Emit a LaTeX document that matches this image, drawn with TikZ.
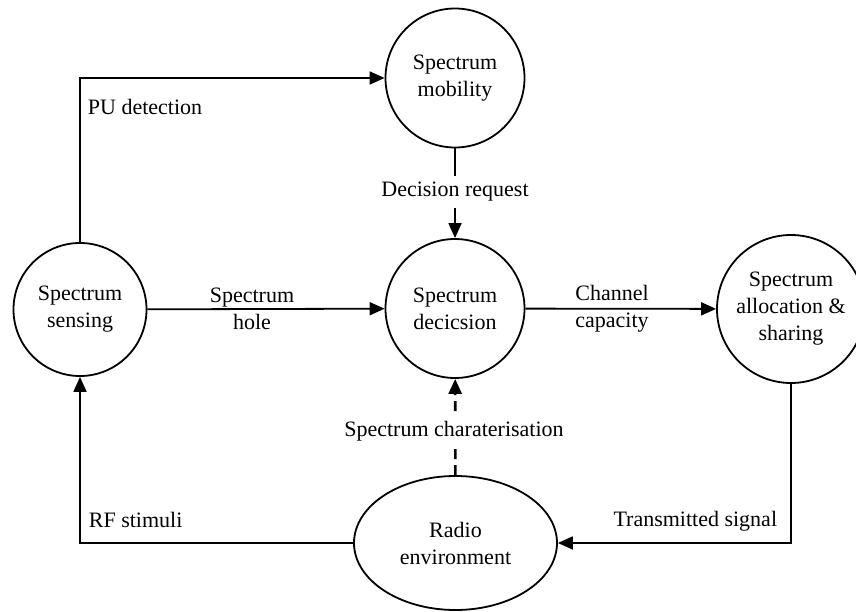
\documentclass[tikz,border=0pt]{standalone}
\usepackage{fontspec}
\setmainfont{Liberation Serif}
\usetikzlibrary{arrows.meta,shapes.geometric}
\begin{document}
\begin{tikzpicture}[x=1pt,y=-1pt,line width=1.8pt,
  font=\fontsize{22}{27}\selectfont,
  proc/.style={circle,draw,minimum size=139pt,inner sep=0pt,align=center},
  env/.style={ellipse,draw,minimum width=203pt,minimum height=134pt,inner sep=0pt,align=center},
  arr/.style={-{Triangle[length=15pt,width=13pt]}},
  lbl/.style={inner sep=2pt,align=center},
  gap/.style={lbl,fill=white,inner ysep=6pt}]
  \useasboundingbox (0,0) rectangle (856,612);
  \clip (0,0) rectangle (856,612);

  % processes
  \node[proc,minimum size=133pt] (sense) at (80,309.5) {Spectrum\\sensing};
  \node[proc] (mob)   at (455,78)    {Spectrum\\mobility};
  \node[proc] (dec)   at (455,308.5) {Spectrum\\decicsion};
  \node[proc,minimum size=148pt] (alloc) at (791,309) {Spectrum\\allocation \&\\sharing};
  \node[env]  (radio) at (455.5,543) {Radio\\environment};

  % connectors
  \draw[arr] (sense.north) |- (mob.west);
  \node[lbl,anchor=west] (lpu) at (85,107) {PU detection};

  \draw[arr] (mob) -- (dec);
  \node[gap] (lreq) at (455,192) {Decision request};

  \draw[arr] (sense) -- (dec);
  \node[lbl] (lhole) at (252,309) {Spectrum\\hole};

  \draw[arr] (dec) -- (alloc);
  \node[lbl] (lcap) at (612,309) {Channel\\capacity};

  \draw[arr,line width=2.6pt,dash pattern=on 10pt off 6pt] (radio) -- (dec);
  \node[gap] (lchar) at (454,431) {Spectrum charaterisation};

  \draw[arr] (alloc.south) |- (radio.east);
  \node[lbl,anchor=east] (ltx) at (780,521) {Transmitted signal};

  \draw[arr] (radio.west) -| (sense.south);
  \node[lbl,anchor=west] (lrf) at (86,520) {RF stimuli};
\end{tikzpicture}
\end{document}
